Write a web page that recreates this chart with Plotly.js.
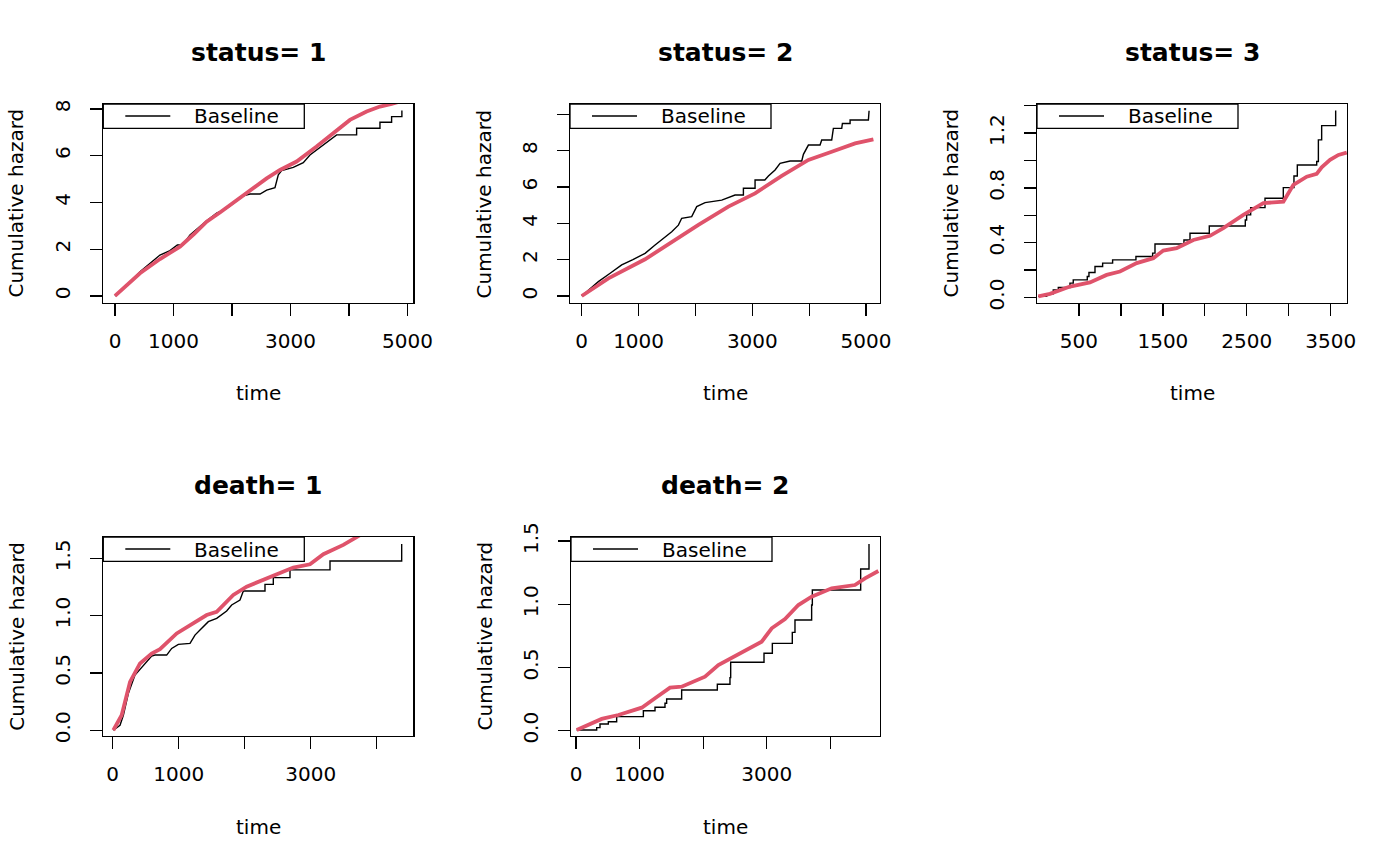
<!DOCTYPE html>
<html>
<head>
<meta charset="utf-8">
<script src="https://cdn.plot.ly/plotly-3.0.1.min.js"></script>
<style>html,body{margin:0;padding:0;background:#fff;}#chart{width:1400px;height:866px;}</style>
</head>
<body>
<div id="chart"></div>
<script>
// ---------------- DATA ----------------
const panelTitles = ["status= 1", "status= 2", "status= 3", "death= 1", "death= 2"];
const legendLabel = "Baseline";
const xAxisLabel = "time";
const yAxisLabel = "Cumulative hazard";

// status = 1
const s1BaseTime = [0,200,427,600,769,940,1066,1157,1282,1567,1738,1909,2023,2194,2308,2479,2593,2735,2792,2849,3048,3219,3333,3561,3675,3789,4131,4131,4530,4530,4729,4729,4905,4905];
const s1BaseHaz  = [0,0.45,1.04,1.42,1.75,1.94,2.18,2.18,2.61,3.21,3.54,3.75,3.96,4.28,4.36,4.36,4.53,4.63,5.18,5.36,5.50,5.70,6.03,6.46,6.67,6.89,6.89,7.17,7.17,7.43,7.43,7.67,7.67,7.93];
const s1FitTime  = [0,200,427,769,1111,1350,1567,1800,2023,2251,2593,2821,3105,3447,3732,4017,4302,4530,4729,4900];
const s1FitHaz   = [0,0.47,0.97,1.58,2.11,2.65,3.18,3.58,3.99,4.39,5.03,5.39,5.75,6.39,6.96,7.53,7.89,8.10,8.21,8.34];

// status = 2
const s2BaseTime = [0,293,500,703,900,1114,1290,1450,1583,1700,1758,1934,2022,2169,2462,2696,2843,2843,3048,3048,3220,3283,3400,3488,3664,3869,3898,3986,4191,4220,4396,4425,4572,4584,4719,4719,5041,5053];
const s2BaseHaz  = [0,0.79,1.25,1.71,2.00,2.35,2.81,3.20,3.54,3.90,4.28,4.37,4.92,5.14,5.28,5.56,5.56,5.93,5.93,6.39,6.39,6.61,6.94,7.30,7.43,7.43,7.80,8.31,8.31,8.59,8.59,9.23,9.23,9.50,9.50,9.69,9.69,10.20];
const s2FitTime  = [0,469,1114,1583,2052,2579,3048,3517,3986,4396,4807,5129];
const s2FitHaz   = [0,0.97,2.02,2.99,3.91,4.92,5.65,6.61,7.49,7.94,8.40,8.62];

// status = 3 (step points: time of jump, new level)
const s3BaseTime = [15,115,194,254,393,432,599,619,691,782,901,1179,1378,1406,1751,1823,2053,2482,2498,2546,2717,2935,3062,3102,3333,3353,3392,3559];
const s3BaseHaz  = [0.008,0.027,0.056,0.073,0.105,0.129,0.153,0.183,0.226,0.251,0.275,0.299,0.324,0.391,0.420,0.469,0.522,0.566,0.603,0.656,0.724,0.802,0.887,0.967,0.992,1.150,1.254,1.364];
const s3FitTime  = [15,154,393,631,830,989,1188,1386,1505,1664,1863,2061,2220,2459,2697,2936,3055,3214,3333,3392,3492,3592,3691];
const s3FitHaz   = [0.008,0.027,0.080,0.110,0.165,0.190,0.251,0.287,0.343,0.360,0.420,0.450,0.506,0.603,0.688,0.700,0.822,0.882,0.902,0.950,1.004,1.040,1.057];

// death = 1
const d1BaseTime = [10,111,162,237,338,465,591,641,818,894,995,1172,1247,1323,1449,1576,1727,1803,1929,1980,2308,2308,2434,2434,2687,2687,3293,3293,4379,4379];
const d1BaseHaz  = [0,0.044,0.131,0.321,0.481,0.568,0.647,0.656,0.656,0.714,0.749,0.758,0.830,0.874,0.947,0.976,1.040,1.093,1.136,1.215,1.215,1.273,1.273,1.332,1.332,1.399,1.399,1.477,1.477,1.626];
const d1FitTime  = [10,136,263,414,591,717,970,1172,1424,1576,1828,2030,2232,2485,2737,2990,3192,3495,3697,3800];
const d1FitHaz   = [0,0.131,0.422,0.583,0.670,0.708,0.845,0.918,1.005,1.034,1.180,1.253,1.302,1.361,1.419,1.448,1.536,1.617,1.690,1.720];

// death = 2 (step points: time of jump, new level)
const d2BaseTime = [10,325,377,508,639,1059,1242,1399,1425,1661,2222,2421,2432,2956,3087,3401,3443,3705,3716,4476,4607];
const d2BaseHaz  = [0.006,0.024,0.053,0.071,0.111,0.158,0.185,0.217,0.251,0.322,0.367,0.420,0.541,0.612,0.691,0.778,0.876,0.994,1.113,1.279,1.477];
const d2FitTime  = [10,404,666,1033,1242,1478,1661,2028,2238,2605,2919,3077,3286,3496,3705,4020,4386,4544,4754];
const d2FitHaz   = [0.006,0.093,0.124,0.182,0.256,0.340,0.348,0.427,0.519,0.619,0.704,0.810,0.883,0.994,1.060,1.126,1.152,1.205,1.263];

// ticks
const xTicksA = [0,1000,2000,3000,4000,5000];
const xLabelsA = ["0","1000","","3000","","5000"];
const xTicksB = [500,1000,1500,2000,2500,3000,3500];
const xLabelsB = ["500","","1500","","2500","","3500"];
const xTicksC = [0,1000,2000,3000,4000];
const xLabelsC = ["0","1000","","3000",""];
const yTicks1 = [0,2,4,6,8];
const yLabels1 = ["0","2","4","6","8"];
const yTicks2 = [0,2,4,6,8,10];
const yLabels2 = ["0","2","4","6","8",""];
const yTicks3 = [0,0.2,0.4,0.6,0.8,1.0,1.2,1.4];
const yLabels3 = ["0.0","","0.4","","0.8","","1.2",""];
const yTicks4 = [0,0.5,1.0,1.5];
const yLabels4 = ["0.0","0.5","1.0","1.5"];

// ---------------- LAYOUT ----------------
const W = 1400, H = 866;
const FONT = "DejaVu Sans";
const RED = "#DF536B";
const fx = p => p / W;
const fy = p => 1 - p / H;

const panels = [
  {l:103.3, r:413.3, t:104, b:302.5, xr:[-200,5100], yr:[-0.28,8.21], xt:xTicksA, xl:xLabelsA, yt:yTicks1, yl:yLabels1,
   bt:s1BaseTime, bh:s1BaseHaz, bshape:"linear", ft:s1FitTime, fh:s1FitHaz},
  {l:570, r:880, t:104, b:303, xr:[-206,5245], yr:[-0.385,10.57], xt:xTicksA, xl:xLabelsA, yt:yTicks2, yl:yLabels2,
   bt:s2BaseTime, bh:s2BaseHaz, bshape:"linear", ft:s2FitTime, fh:s2FitHaz},
  {l:1037, r:1347, t:104, b:303, xr:[0,3694], yr:[-0.04,1.412], xt:xTicksB, xl:xLabelsB, yt:yTicks3, yl:yLabels3,
   bt:s3BaseTime, bh:s3BaseHaz, bshape:"hv", ft:s3FitTime, fh:s3FitHaz},
  {l:103.3, r:413.3, t:537, b:736, xr:[-142,4555], yr:[-0.05,1.686], xt:xTicksC, xl:xLabelsC, yt:yTicks4, yl:yLabels4,
   bt:d1BaseTime, bh:d1BaseHaz, bshape:"linear", ft:d1FitTime, fh:d1FitHaz},
  {l:571, r:880, t:537, b:736, xr:[-79,4780], yr:[-0.042,1.532], xt:xTicksC, xl:xLabelsC, yt:yTicks4, yl:yLabels4,
   bt:d2BaseTime, bh:d2BaseHaz, bshape:"hv", ft:d2FitTime, fh:d2FitHaz}
];

const data = [];
const layout = {
  width: W, height: H, autosize: false,
  margin: {l:0, r:0, t:0, b:0, pad:0},
  paper_bgcolor: "#fff", plot_bgcolor: "#fff",
  showlegend: false,
  font: {family: FONT, size: 20, color: "#000"},
  shapes: [], annotations: []
};

panels.forEach((p, i) => {
  const n = i === 0 ? "" : String(i + 1);
  const xa = "x" + n, ya = "y" + n;
  const common = {
    ticks: "outside", ticklen: 12, tickwidth: 1.3, tickcolor: "#000",
    showline: true, linecolor: "#000", linewidth: 1.3, mirror: true,
    showgrid: false, zeroline: false, fixedrange: true,
    tickfont: {family: FONT, size: 20, color: "#000"},
    tickmode: "array"
  };
  layout["xaxis" + n] = Object.assign({}, common, {
    domain: [fx(p.l), fx(p.r)], range: p.xr, anchor: ya,
    tickvals: p.xt, ticktext: p.xl, ticklabelstandoff: 8
  });
  layout["yaxis" + n] = Object.assign({}, common, {
    domain: [fy(p.b), fy(p.t)], range: p.yr, anchor: xa,
    tickvals: p.yt, ticktext: p.yl, tickangle: -90, ticklabelstandoff: 12
  });

  data.push({x: p.bt, y: p.bh, xaxis: xa, yaxis: ya, type: "scatter", mode: "lines",
             line: {color: "#000", width: 1.4, shape: p.bshape}, hoverinfo: "skip"});
  data.push({x: p.ft, y: p.fh, xaxis: xa, yaxis: ya, type: "scatter", mode: "lines",
             line: {color: RED, width: 3.8}, hoverinfo: "skip"});

  const cx = (p.l + p.r) / 2, cy = (p.t + p.b) / 2;
  // panel title
  layout.annotations.push({xref:"paper", yref:"paper", x: fx(cx), y: fy(p.t - 51.3), xanchor:"center", yanchor:"middle",
    text: "<b>" + panelTitles[i] + "</b>", showarrow:false, font:{family:FONT, size:25, color:"#000"}});
  // x title
  layout.annotations.push({xref:"paper", yref:"paper", x: fx(cx), y: fy(p.b + 90.5), xanchor:"center", yanchor:"middle",
    text: xAxisLabel, showarrow:false, font:{family:FONT, size:20, color:"#000"}});
  // y title
  layout.annotations.push({xref:"paper", yref:"paper", x: fx(p.l - 87), y: fy(cy), xanchor:"center", yanchor:"middle",
    text: yAxisLabel, textangle: -90, showarrow:false, font:{family:FONT, size:20, color:"#000"}});
  // legend box
  layout.shapes.push({type:"rect", xref:"paper", yref:"paper", x0: fx(p.l), x1: fx(p.l + 201), y0: fy(p.t), y1: fy(p.t + 24.3),
    line:{color:"#000", width:1.3}, fillcolor:"#fff", layer:"above"});
  layout.shapes.push({type:"line", xref:"paper", yref:"paper", x0: fx(p.l + 22), x1: fx(p.l + 67), y0: fy(p.t + 12), y1: fy(p.t + 12),
    line:{color:"#000", width:1.4}, layer:"above"});
  layout.annotations.push({xref:"paper", yref:"paper", x: fx(p.l + 88.5), y: fy(p.t + 12.5), xanchor:"left", yanchor:"middle",
    text: legendLabel, showarrow:false, font:{family:FONT, size:20, color:"#000"}});
});

Plotly.newPlot("chart", data, layout, {displayModeBar: false, staticPlot: true});
</script>
</body>
</html>
